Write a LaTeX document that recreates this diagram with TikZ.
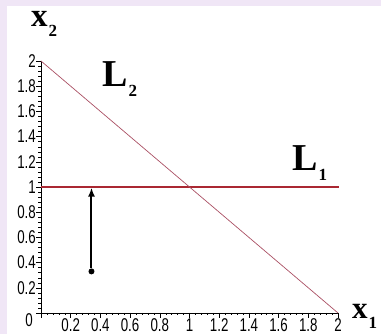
\documentclass[tikz,border=0pt]{standalone}
\usepackage{fontspec}
\usepackage{tikz}
\usetikzlibrary{arrows.meta,positioning}
\newfontfamily\tickfont[FakeStretch=0.72]{Liberation Sans}
\newfontfamily\labelfont{Liberation Serif}
\definecolor{bandpink}{RGB}{240,230,246}
\definecolor{lineone}{RGB}{170,40,50}
\definecolor{linetwo}{RGB}{170,80,100}
% letter with a lowered index
\newcommand{\varlabel}[3]{{\fontsize{#1}{#1}\selectfont\bfseries #2}\kern1pt\raisebox{-10pt}{\fontsize{17}{17}\selectfont\bfseries #3}}

\begin{document}
\begin{tikzpicture}[
    x=148.5pt, y=126pt,
    tick/.style={font=\tickfont\fontsize{18.5}{18.5}\selectfont, inner sep=0pt},
    var/.style={font=\labelfont, inner sep=0pt, anchor=base west},
    arrow/.style={-{Latex[length=9pt,width=7pt]}, line width=2pt}
]
\useasboundingbox (-41pt,-21pt) rectangle (340pt,313pt);
\fill[bandpink] (-41pt,-21pt) rectangle (-34pt,313pt);
\fill[bandpink] (-41pt,307pt) rectangle (340pt,313pt);

% axes and ticks
\draw (0,0) -- (2,0);
\draw (0,0) -- (0,2);
\foreach \k in {0,...,50} {
  \draw (\k*0.04,0) -- ++(0,-2.5pt);
  \draw (0,\k*0.04) -- ++(-2.5pt,0);
}
\foreach \k in {0,...,10} {
  \draw (\k*0.2,0) -- ++(0,-5pt);
  \draw (0,\k*0.2) -- ++(-5pt,0);
}
\foreach \t [count=\i] in {0.2,0.4,0.6,0.8,1,1.2,1.4,1.6,1.8,2} {
  \node[tick, anchor=north] (xtick\i) at (\t,-5.5pt) {\t};
  \node[tick, anchor=east] (ytick\i) at (-5pt,\t) {\t};
}
\node[tick, anchor=north east] (zero) at (-8pt,0) {0};

% the two lines
\coordinate (l1a) at (0,1);
\coordinate (l1b) at (2.01,1);
\coordinate (l2a) at (0,2);
\coordinate (l2b) at (2,0);
\draw[lineone, line width=1.6pt] (l1a) -- (l1b);
\draw[linetwo, line width=0.7pt] (l2a) -- (l2b);

% arrow up to L1
\node[circle, fill, inner sep=0pt, minimum size=6pt] (start) at (0.34,0.33) {};
\coordinate (top) at (0.34,0.995);
\draw[arrow] (start) -- (top);

% labels
\node[var] (xtwo) at (-10pt,286pt) {\varlabel{33}{x}{2}};
\node[var] (ltwo) at (61pt,226pt) {\varlabel{38}{L}{2}};
\node[var] (lone) at (251pt,142pt) {\varlabel{38}{L}{1}};
\node[var] (xone) at (311pt,-6pt) {\varlabel{31}{x}{1}};
\end{tikzpicture}
\end{document}
